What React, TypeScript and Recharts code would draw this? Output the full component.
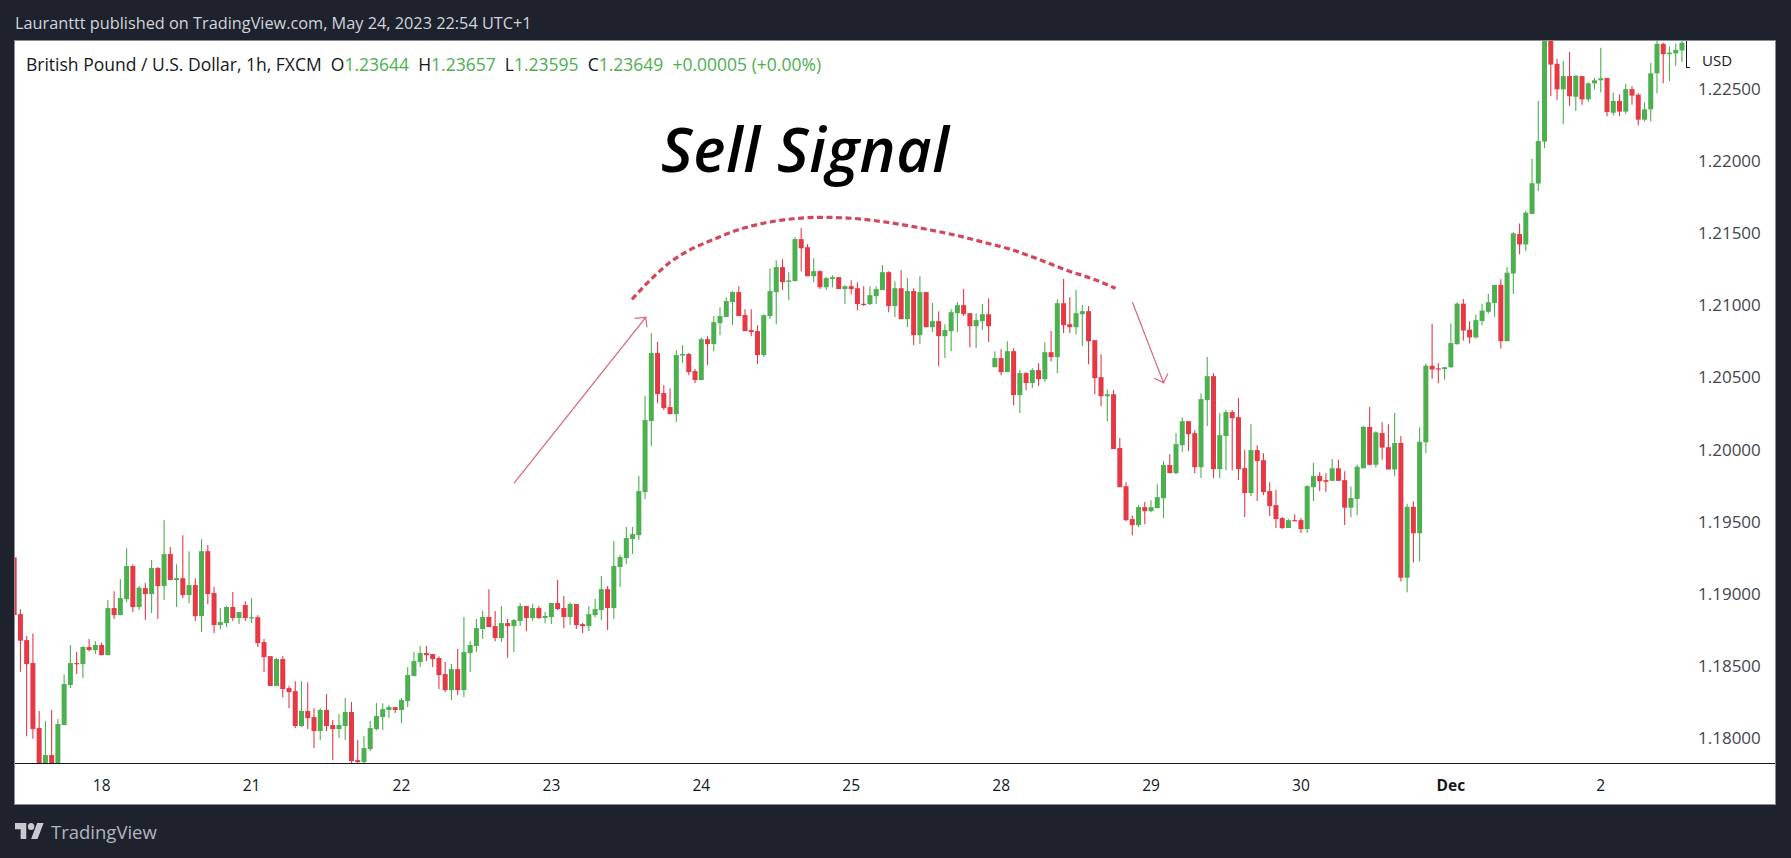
import React from "react";
import { Bar, ComposedChart, Line, XAxis, YAxis } from "recharts";

// Prices are stored in points (1 point = 0.00001)
const POINT = 100000;

const highs = [
  119254,118894,118709,118727,118190,118120,118197,118134,118443,118647,
  118598,118640,118688,118674,118665,118958,119020,119104,119318,119207,
  119055,119076,119235,119187,119512,119325,119207,119408,119297,119110,
  119380,119339,119048,118903,118917,119014,118875,118951,118972,118854,
  118688,118570,118557,118570,118363,118397,118397,118390,118210,118210,
  118307,118127,118169,118280,118252,117989,118016,118120,118245,118243,
  118231,118217,118280,118494,118598,118640,118640,118584,118570,118529,
  118515,118619,118841,118674,118827,118882,119034,118882,118917,118827,
  118827,118938,118917,118931,118917,118875,118938,119097,118986,118944,
  118931,118799,118917,118965,119125,119055,119367,119270,119464,119464,
  119817,120371,120807,120745,120447,120426,120689,120724,120669,120558,
  120779,120786,120925,120987,121056,121098,121132,120973,120973,120862,
  120938,121255,121312,121319,121229,121472,121534,121423,121326,121243,
  121195,121208,121195,121139,121174,121160,121132,121132,121132,121278,
  121236,121167,121243,121188,121118,121201,121091,121015,120959,120869,
  120973,121022,121112,120945,120945,121008,121049,120682,120696,120751,
  120703,120551,120537,120564,120599,120744,120821,121042,121181,121056,
  121105,121001,120994,120758,120661,120417,120412,120080,119775,119544,
  119616,119637,119650,119761,119921,119969,120114,120225,120197,120135,
  120389,120641,120530,120253,120274,120274,120357,119997,120177,120031,
  119976,119775,119720,119533,119519,119553,119526,119754,119907,119844,
  119837,119935,119930,119850,119744,119898,120163,120295,120128,120189,
  120176,120253,120094,119625,119643,120155,120597,120870,120600,120571,
  120876,121021,121043,120889,120936,121011,121080,121141,121180,121265,
  121506,121567,121657,122015,122415,122950,122950,122707,122691,122754,
  122593,122590,122545,122574,122784,122574,122473,122460,122532,122516,
  122468,122405,122680,122880,122818,122792,122813,122880,
];

const lows = [
  118854,118462,118016,117998,117712,117712,117735,117758,118093,118349,
  118446,118418,118603,118584,118577,118577,118827,118854,118944,118875,
  118889,118820,118868,118827,118958,119097,118910,118972,118937,118813,
  118737,118930,118730,118757,118771,118813,118792,118813,118799,118633,
  118460,118363,118363,118286,118210,118072,118079,118065,117933,117989,
  118051,117850,118003,117989,117827,117827,117827,117913,118058,118058,
  118141,118176,118106,118217,118432,118494,118536,118494,118342,118321,
  118266,118300,118287,118460,118598,118688,118771,118674,118668,118559,
  118598,118778,118744,118813,118827,118797,118792,118889,118764,118785,
  118758,118730,118744,118841,118820,118751,118827,119048,119208,119277,
  119374,119658,120025,120322,120274,120246,120191,120599,120516,120461,
  120482,120585,120682,120793,120918,120862,120925,120821,120786,120592,
  120641,120904,120869,121105,121035,121167,121236,121201,121160,121112,
  121105,121125,121112,121008,121077,120966,120994,121001,121008,121105,
  120952,120918,120904,120848,120724,120731,120848,120814,120578,120634,
  120682,120814,120925,120710,120703,120828,120745,120571,120516,120537,
  120308,120253,120412,120426,120440,120468,120613,120530,120807,120807,
  120800,120717,120592,120384,120301,120197,120004,119740,119505,119408,
  119464,119484,119567,119595,119526,119837,119830,119983,119990,119837,
  119803,120163,119803,119803,119858,119858,119789,119533,119678,119644,
  119685,119540,119457,119450,119457,119505,119422,119422,119644,119713,
  119706,119784,119784,119479,119532,119545,119871,119890,119877,119930,
  119863,119818,119087,119013,119219,119227,119975,120491,120460,120486,
  120563,120730,120756,120735,120770,120862,120944,120921,120698,120751,
  121080,121353,121374,121631,121792,122089,122447,122421,122256,122381,
  122346,122389,122410,122495,122473,122309,122314,122309,122325,122389,
  122246,122272,122272,122468,122537,122553,122659,122685,
];

const opens = [
  119254,118861,118681,118522,118072,117781,117885,117781,118093,118370,
  118522,118515,118633,118612,118647,118577,118903,118854,118965,119194,
  118910,119041,119000,119180,119055,119277,119097,119110,118993,119062,
  118847,119297,119007,118785,118799,118910,118834,118924,118836,118840,
  118667,118570,118363,118550,118349,118328,118086,118190,118148,118051,
  118197,118093,118065,118086,118183,117850,117836,117926,118065,118148,
  118197,118217,118197,118259,118432,118529,118591,118584,118557,118446,
  118335,118480,118335,118591,118640,118758,118841,118778,118695,118799,
  118778,118813,118917,118834,118903,118834,118841,118938,118903,118841,
  118931,118792,118778,118854,118889,119034,118903,119187,119249,119381,
  119408,119706,120198,120669,120392,120295,120246,120652,120662,120544,
  120482,120765,120731,120876,120918,121022,121091,120932,120828,120821,
  120655,120925,121091,121264,121162,121167,121458,121402,121201,121236,
  121125,121183,121195,121112,121132,121118,121010,121008,121063,121105,
  121229,120994,121118,120904,121098,120793,121091,120848,120890,120786,
  120821,120945,121001,120945,120855,120890,120938,120571,120634,120537,
  120682,120378,120530,120461,120551,120488,120675,120641,121014,120869,
  120848,120938,120959,120758,120502,120370,120384,120011,119747,119519,
  119477,119602,119574,119595,119664,119893,119837,120031,120197,120114,
  119879,120343,120509,119865,120094,120260,120225,119872,119699,119997,
  119927,119713,119616,119526,119457,119512,119512,119450,119740,119817,
  119789,119784,119871,119789,119598,119659,119871,120157,119895,120115,
  120017,119863,120046,119113,119604,119421,120051,120581,120563,120558,
  120571,120730,121011,120831,120777,120891,120955,121016,121141,120751,
  121220,121493,121421,121633,121843,122134,122898,122672,122495,122587,
  122444,122587,122426,122537,122558,122574,122333,122415,122341,122497,
  122458,122285,122357,122606,122810,122739,122744,122765,
];

const closes = [
  118854,118677,118515,118065,117758,117885,117781,118100,118377,118522,
  118517,118633,118612,118647,118577,118903,118854,118972,119194,118910,
  119044,119000,119180,119055,119277,119097,119110,118993,119062,118847,
  119297,119000,118785,118806,118910,118834,118875,118834,118840,118660,
  118563,118363,118550,118342,118321,118086,118190,118141,118051,118197,
  118086,118065,118093,118183,117843,117836,117933,118072,118155,118203,
  118217,118197,118266,118439,118536,118591,118577,118550,118439,118335,
  118480,118335,118598,118647,118764,118841,118771,118695,118799,118778,
  118820,118917,118834,118903,118834,118848,118938,118896,118841,118931,
  118785,118778,118861,118896,119034,118903,119194,119256,119388,119415,
  119713,120205,120669,120385,120288,120246,120655,120662,120537,120482,
  120765,120731,120883,120925,121029,121091,120925,120821,120814,120655,
  120931,121098,121264,121160,121172,121458,121395,121201,121236,121125,
  121188,121195,121112,121132,121112,121008,121003,121070,121112,121229,
  120994,121118,120904,121098,120793,121091,120848,120890,120786,120828,
  120952,121001,120938,120855,120897,120938,120855,120634,120537,120682,
  120378,120530,120461,120551,120488,120675,120641,121014,120862,120848,
  120945,120959,120751,120495,120370,120384,120004,119740,119512,119477,
  119602,119574,119602,119671,119893,119837,120038,120197,120107,119879,
  120350,120509,119865,120100,120260,120218,119865,119699,119997,119921,
  119706,119609,119519,119457,119512,119507,119450,119747,119817,119782,
  119777,119871,119784,119598,119665,119882,120157,119895,120120,120014,
  119863,120046,119113,119604,119421,120054,120581,120555,120555,120571,
  120738,121011,120825,120777,120897,120963,121021,121141,120751,121225,
  121498,121421,121641,121845,122137,122898,122667,122495,122587,122447,
  122590,122426,122537,122558,122572,122338,122415,122341,122497,122452,
  122285,122357,122606,122810,122739,122749,122768,122818,
];

const dayTickBars = [14, 38, 62, 86, 110, 134, 158, 182, 206, 230, 254];
const dayTickLabels = ["18", "21", "22", "23", "24", "25", "28", "29", "30", "Dec", "2"];
const priceTicks = [1.18, 1.185, 1.19, 1.195, 1.2, 1.205, 1.21, 1.215, 1.22, 1.225];

// Hand-drawn annotations, read as (bar number, price)
const arcBars = [98.9, 102.1, 105.1, 108.1, 112.0, 115.8, 120.3, 124.7, 129.1, 133.5, 137.9, 142.3, 146.7, 151.1, 155.5, 159.9, 164.3, 168.7, 173.2, 176.3];
const arcPrices = [121041, 121186, 121301, 121382, 121456, 121521, 121571, 121599, 121609, 121604, 121585, 121557, 121521, 121481, 121433, 121382, 121313, 121239, 121174, 121117];
const upArrowBars = [80.0, 101.1, 99.3, 101.1, 101.3];
const upArrowPrices = [119767, 120916, 120909, 120916, 120847];
const downArrowBars = [179.0, 184.0, 182.5, 184.0, 184.7];
const downArrowPrices = [121022, 120463, 120494, 120463, 120528];

const GREEN = "#4caf50";
const RED = "#e63946";
const DARK = "#1e222d";
const FONT = "'Open Sans', sans-serif";

const candles = highs.map((h, i) => ({
  i,
  open: opens[i] / POINT,
  close: closes[i] / POINT,
  high: h / POINT,
  low: lows[i] / POINT,
  range: [lows[i] / POINT, h / POINT],
}));
const toLine = (bars: number[], prices: number[]) =>
  bars.map((i, k) => ({ i, price: prices[k] / POINT }));

const Candle = (props: any) => {
  const { x, y, width, height, payload } = props;
  const top = Math.min(y, y + height);
  const h = Math.abs(height);
  const span = payload.high - payload.low || 1;
  const at = (v: number) => top + ((payload.high - v) / span) * h;
  const up = payload.close >= payload.open;
  const color = up ? GREEN : RED;
  const bodyTop = at(Math.max(payload.open, payload.close));
  const bodyBottom = at(Math.min(payload.open, payload.close));
  const cx = x + width / 2;
  return (
    <g>
      <line x1={cx} x2={cx} y1={top} y2={top + h} stroke={color} strokeWidth={1.1} />
      <rect x={cx - 2.5} width={5} y={bodyTop} height={Math.max(bodyBottom - bodyTop, 1.2)} fill={color} />
    </g>
  );
};

const DayTick = (props: any) => {
  const { x, y, payload } = props;
  const label = dayTickLabels[dayTickBars.indexOf(payload.value)];
  return (
    <text x={x} y={y} textAnchor="middle" dominantBaseline="central" fontFamily={FONT} fontSize={15.5}
      fontWeight={label === "Dec" ? 700 : 400} fill="#131722">
      {label}
    </text>
  );
};

const abs = (s: React.CSSProperties): React.CSSProperties => ({ position: "absolute", whiteSpace: "nowrap", ...s });
const G = ({ children }: { children: React.ReactNode }) => <span style={{ color: GREEN }}>{children}</span>;

export default function App() {
  return (
    <div style={abs({ left: 0, top: 0, width: 1791, height: 858, background: DARK, overflow: "hidden", fontFamily: FONT })}>
      <div style={abs({ left: 15, top: 12, fontSize: 16.3, color: "#d1d4dc" })}>
        Lauranttt published on TradingView.com, May 24, 2023 22:54 UTC+1
      </div>
      <div style={abs({ left: 15, top: 41, width: 1760, height: 763, background: "#fff", boxShadow: "0 0 0 1px #8a8d96" })} />
      <div style={abs({ left: 15, top: 763, width: 1760, height: 1, background: "#131722" })} />

      <div style={abs({ left: 0, top: 0 })}>
        <ComposedChart width={1791} height={858} data={candles} margin={{ top: 41, left: 15, right: 16, bottom: 54 }}>
          <XAxis
            dataKey="i"
            type="number"
            domain={[0.128, 267.8]}
            allowDataOverflow
            ticks={dayTickBars}
            interval={0}
            height={41}
            axisLine={false}
            tickLine={false}
            tick={<DayTick />}
            tickMargin={16}
          />
          <YAxis
            orientation="right"
            type="number"
            domain={[1.1783, 1.2283]}
            allowDataOverflow
            ticks={priceTicks}
            interval={0}
            width={88}
            axisLine={false}
            tickLine={false}
            tickMargin={5}
            tickFormatter={(v: number) => v.toFixed(5)}
            tick={{ fontFamily: FONT, fontSize: 17, fill: "#434651" }}
          />
          <Bar dataKey="range" barSize={5} shape={<Candle />} isAnimationActive={false} />
          <Line data={toLine(arcBars, arcPrices)} dataKey="price" type="monotone" dot={false} stroke="#d4465c"
            strokeWidth={3.2} strokeDasharray="6 3.5" isAnimationActive={false} />
          <Line data={toLine(upArrowBars, upArrowPrices)} dataKey="price" type="linear" dot={false} stroke="#dc6478"
            strokeWidth={1.2} isAnimationActive={false} />
          <Line data={toLine(downArrowBars, downArrowPrices)} dataKey="price" type="linear" dot={false} stroke="#dc6478"
            strokeWidth={1.2} isAnimationActive={false} />
        </ComposedChart>
      </div>

      <div style={abs({ left: 26, top: 52, fontSize: 17.5, color: "#131722" })}>
        British Pound / U.S. Dollar, 1h, FXCM{"\u00a0\u00a0"}O<G>1.23644</G>{"\u00a0\u00a0"}H<G>1.23657</G>{"\u00a0\u00a0"}L<G>1.23595</G>{"\u00a0\u00a0"}C<G>1.23649</G>{"\u00a0\u00a0"}<G>+0.00005 (+0.00%)</G>
      </div>
      <div style={abs({ left: 661, top: 107, fontSize: 61, fontStyle: "italic", fontWeight: 600, letterSpacing: 0.6, color: "#000" })}>Sell Signal</div>
      <div style={abs({ left: 1702, top: 50, fontSize: 15, color: "#131722" })}>USD</div>
      <div style={abs({ left: 1686, top: 41, width: 3, height: 26, borderLeft: "1px solid #131722", borderBottom: "1px solid #131722" })} />

      <svg style={abs({ left: 15, top: 823 })} width={29} height={16} viewBox="0 4 36 18" preserveAspectRatio="none">
        <path d="M14 22H7V11H0V4h14v18zM28 22h-8l7.5-18h8L28 22z" fill="#c8cad0" />
        <circle cx="20" cy="8" r="4" fill="#c8cad0" />
      </svg>
      <div style={abs({ left: 51, top: 819, fontSize: 18.5, color: "#b2b5be" })}>TradingView</div>
    </div>
  );
}
